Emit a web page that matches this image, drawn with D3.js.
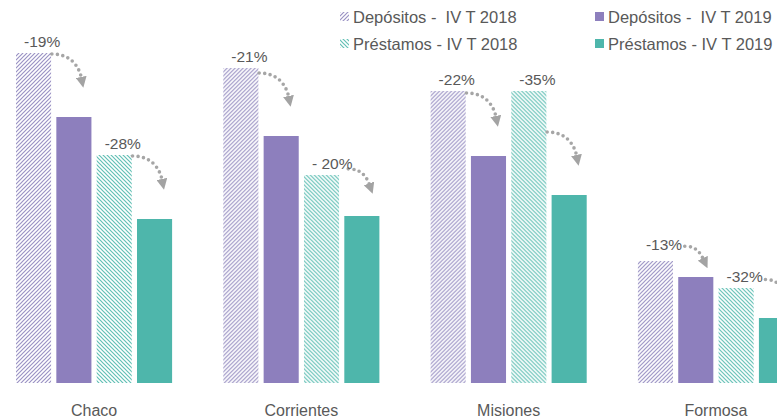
<!DOCTYPE html>
<html>
<head>
<meta charset="utf-8">
<script src="https://cdn.jsdelivr.net/npm/d3@7"></script>
<style>
  html, body { margin: 0; padding: 0; background: #fff; }
  svg text { font-family: "Liberation Sans", Arial, sans-serif; fill: #595959; }
</style>
</head>
<body>
<svg id="mainsvg" width="777" height="419"></svg>
<script>
(function () {
  // datos
  const provincias = ['Chaco', 'Corrientes', 'Misiones', 'Formosa'];
  const series = ['Depósitos -  IV T 2018', 'Depósitos -  IV T 2019', 'Préstamos - IV T 2018', 'Préstamos - IV T 2019'];
  const depositos2018 = [33.0, 31.5, 29.2, 12.2];
  const depositos2019 = [26.6, 24.7, 22.7, 10.6];
  const prestamos2018 = [22.8, 20.8, 29.2, 9.5];
  const prestamos2019 = [16.4, 16.7, 18.8, 6.5];
  const varDepositos = ['-19%', '-21%', '-22%', '-13%'];
  const varPrestamos = ['-28%', '- 20%', '-35%', '-32%'];

  const valores = [depositos2018, depositos2019, prestamos2018, prestamos2019];
  const fills = ['url(#hatchDep)', '#8d7fbd', 'url(#hatchPre)', '#4eb6ab'];

  const svg = d3.select('#mainsvg');

  // patrones rayados y punta de flecha
  const defs = svg.append('defs');
  defs.append('pattern')
    .attr('id', 'hatchDep')
    .attr('patternUnits', 'userSpaceOnUse')
    .attr('width', 4).attr('height', 4)
    .append('path')
    .attr('d', 'M-1,1 l2,-2 M0,4 l4,-4 M3,5 l2,-2')
    .attr('stroke', '#9b92c4')
    .attr('stroke-width', 1.2);
  defs.append('pattern')
    .attr('id', 'hatchPre')
    .attr('patternUnits', 'userSpaceOnUse')
    .attr('width', 4).attr('height', 4)
    .append('path')
    .attr('d', 'M-1,3 l2,2 M0,0 l4,4 M3,-1 l2,2')
    .attr('stroke', '#62c0b5')
    .attr('stroke-width', 1.2);
  defs.append('marker')
    .attr('id', 'punta')
    .attr('markerUnits', 'userSpaceOnUse')
    .attr('markerWidth', 11).attr('markerHeight', 11)
    .attr('viewBox', '0 0 10 10')
    .attr('refX', 1).attr('refY', 5)
    .attr('orient', 'auto')
    .append('path')
    .attr('d', 'M0,0 L10,5 L0,10 Z')
    .attr('fill', '#a3a3a3');

  const x0 = d3.scaleBand()
    .domain(provincias)
    .range([16, 794])
    .paddingInner(0.247)
    .paddingOuter(0);

  const x1 = d3.scaleBand()
    .domain(d3.range(series.length))
    .range([0, x0.bandwidth()])
    .paddingInner(0.13);

  const y = d3.scaleLinear()
    .domain([0, 33])
    .range([383, 53]);

  const g = svg.append('g');

  provincias.forEach((prov, i) => {
    const grp = g.append('g').attr('transform', `translate(${x0(prov)},0)`);
    valores.forEach((serie, s) => {
      grp.append('rect')
        .attr('x', x1(s))
        .attr('y', y(serie[i]))
        .attr('width', x1.bandwidth())
        .attr('height', y(0) - y(serie[i]))
        .attr('fill', fills[s]);
    });

    // flechas punteadas y variaciones
    [[0, 1, varDepositos[i]], [2, 3, varPrestamos[i]]].forEach(([a, b, txt]) => {
      const top1 = y(valores[a][i]);
      const top2 = y(valores[b][i]);
      const diff = top2 - top1;
      const tipX = x1(b) + x1.bandwidth() / 2 + 9;
      const tipY = top2 - Math.min(30, diff * 0.55);
      const h = Math.max(22, Math.min(33, diff * 0.6));
      const sx = tipX - h + 2, sy = tipY - h;

      grp.append('path')
        .attr('d', `M${sx},${sy} C${sx + h * 0.55},${sy} ${tipX - 4},${sy + h * 0.35} ${tipX - 1.5},${tipY - 9}`)
        .attr('fill', 'none')
        .attr('stroke', '#a6a6a6')
        .attr('stroke-width', 3.6)
        .attr('stroke-linecap', 'round')
        .attr('stroke-dasharray', '0,5.5')
        .attr('marker-end', 'url(#punta)');

      grp.append('text')
        .attr('x', x1(a) + 8)
        .attr('y', Math.min(top1 - 6, sy + 4))
        .attr('font-size', '15.5px')
        .style('white-space', 'pre')
        .text(txt);
    });

    grp.append('text')
      .attr('x', x0.bandwidth() / 2)
      .attr('y', 416)
      .attr('text-anchor', 'middle')
      .attr('font-size', '16px')
      .text(prov);
  });

  // leyenda
  const leg = svg.append('g');
  const legX = [340, 595];
  const legY = [23, 50];
  const legOrder = [0, 2, 1, 3];
  legOrder.forEach((s, k) => {
    const col = Math.floor(k / 2), row = k % 2;
    leg.append('rect')
      .attr('x', legX[col])
      .attr('y', legY[row] - 11)
      .attr('width', 9)
      .attr('height', 9)
      .attr('fill', fills[s]);
    leg.append('text')
      .attr('x', legX[col] + 13)
      .attr('y', legY[row])
      .attr('font-size', '16.5px')
      .style('white-space', 'pre')
      .text(series[s]);
  });
})();
</script>
</body>
</html>
